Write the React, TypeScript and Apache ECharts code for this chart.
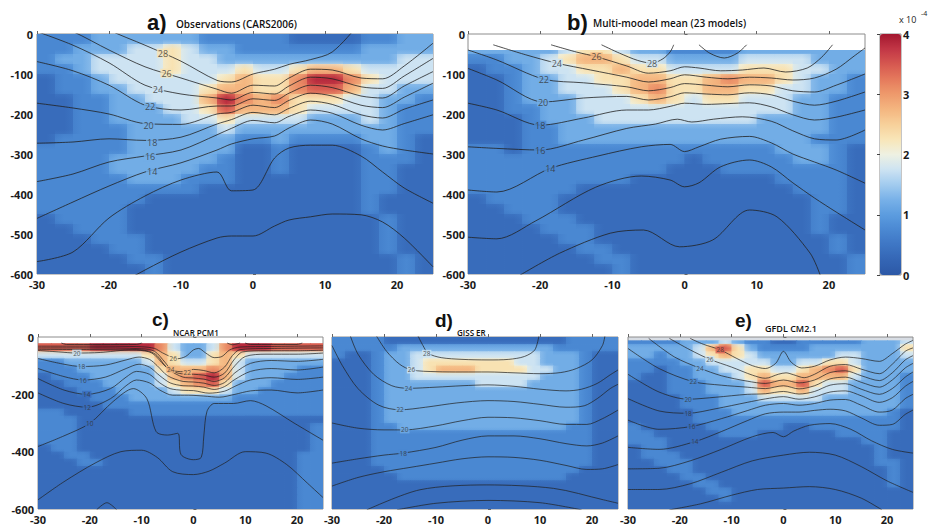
import { useEffect, useRef } from 'react';
import * as echarts from 'echarts';

// ---------- grid of the coloured field (cell centres) ----------
const colX = [-28.75, -26.25, -23.75, -21.25, -18.75, -16.25, -13.75, -11.25, -8.75, -6.25, -3.75, -1.25, 1.25, 3.75, 6.25, 8.75, 11.25, 13.75, 16.25, 18.75, 21.25, 23.75];
const rowD = [-12.5, -37.5, -62.5, -87.5, -112.5, -137.5, -162.5, -187.5, -212.5, -237.5, -262.5, -287.5, -312.5, -337.5, -362.5, -387.5, -412.5, -437.5, -462.5, -487.5, -512.5, -537.5, -562.5, -587.5];
// value (x 10^-4) read for each digit class
const levels = [0.1, 0.35, 0.75, 1.2, 1.75, 2.3, 2.75, 3.1, 3.45, 3.85];

const colorTicks = [0, 1, 2, 3, 4];

// ---------- fields (rows = depth, columns = latitude), digits index `levels` ----------
const fieldA = [
  '2223333332222211112233',
  '2233344543322222223333',
  '2334444544333333333344',
  '2234444544454456654444',
  '1223444444565579975444',
  '1223344445665578864433',
  '1122334446976755544332',
  '1122333445866654444322',
  '1122333344544443334322',
  '1122233333433333333322',
  '1222233333322322223321',
  '2222233333311211112321',
  '2222333333211211112221',
  '2222333332211211112211',
  '2222233322211111112211',
  '2222222221111111112211',
  '2222221111111111112111',
  '2222211111111111112111',
  '1222211111111111111211',
  '1122211111111111111211',
  '1112221111111111111211',
  '1111221111111111111211',
  '1111122111111111111121',
  '1111112111111111111121',
];
const fieldB = [
  '......................',
  '3333345543322223333333',
  '2233456654433334444333',
  '1223445565544445554433',
  '1123344556655676654332',
  '1123344456755665544332',
  '1123334445654554443322',
  '1122334444444444443322',
  '1112333444444444333322',
  '1112233333333333333322',
  '1112233333333333333222',
  '2212222222222222233321',
  '2222222222221222223321',
  '2222222222211122222221',
  '2222222221111111122221',
  '2222221111111111112221',
  '1222211111111111111221',
  '1122211111111111111221',
  '1112221111111111111211',
  '1111222111111111111211',
  '1111122111111111111121',
  '1111112211111111111121',
  '1111111221111111111112',
  '1111111121111111111112',
];
const fieldC = [
  '8888999997433479998888',
  '8888999997433479998888',
  '4444444456533565444444',
  '2233333346544564333333',
  '2223333335666764333322',
  '1222333334678964333222',
  '1122233334567853332222',
  '1112223333455543322222',
  '1111222333333332222222',
  '1111122222222222222222',
  '2211111222222222222222',
  '2221111111111111111111',
  '2221111111111111111112',
  '2221111111111111111112',
  '2221111111111111111112',
  '1221111111111111111112',
  '1122111111111111111122',
  '1112211111111111111122',
  '1111111111111111111122',
  '1111111111111111111122',
  '1111111111111111111122',
  '1111111111111111111122',
  '1111111111111111111122',
  '1111111111111111111122',
];
const fieldD = [
  '2222111111111111112222',
  '2222233333333333322222',
  '2112334444444444333211',
  '1112334555555544333211',
  '1112334566655554433211',
  '1112334444444444333211',
  '1112333333344443333211',
  '1112333333333333333211',
  '1112333333333333333211',
  '1112333333333333333211',
  '1112333333333333333211',
  '1112333333333333333211',
  '1112233333333333332211',
  '1112222222222222222211',
  '1112222222222222222211',
  '1112222222222222222211',
  '1112222222222222222211',
  '1112222222222222222211',
  '1111222222222222222111',
  '1111122222222222221111',
  '1111111111111111111111',
  '1111111111111111111111',
  '1111111111111111111111',
  '1111111111111111111111',
];
const fieldE = [
  '2222333432211222223334',
  '3333346853222233333335',
  '3323345654333333443334',
  '2222334444433445543333',
  '2212233445544567853333',
  '2112233345655666643332',
  '1112223334866854433332',
  '1112223334655644433332',
  '1111222333444443333332',
  '1111222333333333333332',
  '1111122233333333333321',
  '1111122222222222222221',
  '2111112222221122222221',
  '2211111222111111222211',
  '2221111111111111112211',
  '1221111111111111111211',
  '1222111111111111111211',
  '1122211111111111111221',
  '1112211111111111111121',
  '1111221111111111111121',
  '1111122111111111111121',
  '1111112211111111111111',
  '1111111211111111111111',
  '1111111111111111111111',
];

// ---------- isotherms ----------
const xA = [-30, -25, -20, -15, -10, -5, -3, 0, 3, 5, 8, 11, 15, 18, 21, 25];
const depthsA = [
  [90, 60, 10, -28, -68, -116, -120, -100, -88, -76, -64, -45, 30, 90, 90, 90],
  [40, 6, -40, -82, -110, -138, -148, -128, -130, -110, -88, -90, -110, -112, -80, -23],
  [6, -28, -72, -128, -150, -160, -165, -146, -150, -130, -108, -112, -132, -136, -105, -61],
  [-69, -92, -128, -178, -190, -180, -180, -162, -166, -148, -128, -134, -155, -160, -130, -94],
  [-173, -185, -200, -224, -226, -200, -196, -178, -184, -166, -148, -155, -178, -184, -158, -123],
  [-273, -270, -262, -266, -258, -225, -214, -196, -202, -186, -168, -176, -202, -210, -188, -165],
  [-369, -350, -320, -305, -290, -252, -236, -216, -222, -206, -190, -198, -228, -240, -224, -202],
  [-461, -420, -380, -345, -322, -290, -275, -262, -255, -235, -215, -225, -262, -280, -290, -300],
  [-569, -545, -460, -405, -365, -345, -392, -390, -310, -285, -278, -278, -305, -345, -385, -423],
  [-720, -690, -640, -590, -545, -510, -505, -505, -480, -465, -457, -450, -452, -470, -510, -582],
];
const labelsA = [[-12.5, -48, '28'], [-12, -98, '26'], [-13.2, -138, '24'], [-14.3, -182, '22'], [-14.5, -228, '20'], [-14, -270, '18'], [-14.3, -307, '16'], [-14, -344, '14']];

const linesB = [
  [[-11.5, -27], [-9, -48], [-6.5, -66], [-4.5, -73], [-3, -62], [-2, -45], [-1.5, -27]],
  [[2, -27], [3.5, -48], [5.5, -60], [7.3, -48], [8.6, -27]],
  [[-18.5, -27], [-15, -45], [-12.2, -57], [-8, -80], [-5, -98], [-2, -92], [0, -82], [2, -85], [5, -92], [8, -90], [11, -85], [14, -95], [17, -85], [19, -58], [20.5, -27]],
  [[-26.5, -27], [-22, -52], [-17.7, -73], [-13, -90], [-8, -108], [-5, -120], [-2, -112], [0, -102], [3, -108], [6, -112], [9, -108], [12, -110], [15, -115], [18, -110], [21, -88], [23.5, -55], [25, -35]],
  [[-30, -40], [-26, -65], [-19.5, -113], [-14, -122], [-8, -132], [-5, -142], [-2, -134], [0, -124], [3, -128], [6, -132], [9, -127], [12, -130], [15, -142], [18, -145], [21, -128], [25, -100]],
  [[-30, -86], [-26, -115], [-19.6, -170], [-14, -160], [-8, -156], [-5, -165], [-2, -157], [0, -147], [3, -150], [6, -152], [9, -147], [12, -152], [15, -168], [18, -178], [21, -168], [25, -145]],
  [[-30, -173], [-26, -190], [-20, -228], [-14, -210], [-8, -190], [-5, -190], [-2, -181], [0, -173], [3, -176], [6, -174], [9, -172], [12, -182], [15, -202], [18, -215], [21, -208], [25, -190]],
  [[-30, -282], [-26, -286], [-20, -290], [-14, -265], [-8, -236], [-4, -225], [-1, -213], [1, -220], [4, -213], [8, -207], [12, -218], [15, -242], [18, -262], [21, -265], [25, -240]],
  [[-30, -390], [-26, -395], [-18.6, -336], [-12, -305], [-6, -282], [-2, -276], [0, -294], [2, -282], [5, -263], [9, -256], [12, -272], [15, -300], [18, -320], [21, -340], [25, -373]],
  [[-30, -508], [-26, -512], [-20.6, -467], [-12.3, -383], [-6, -355], [-2, -365], [0, -382], [2, -372], [5, -332], [9, -315], [12, -332], [15, -372], [18, -410], [21, -445], [25, -490]],
  [[-22.8, -603], [-17.3, -548], [-10.3, -498], [-5.7, -490], [-0.7, -532], [3.9, -515], [9, -440], [12.8, -457], [17.4, -548], [18.8, -603]],
];
const labelsB = [[-4.5, -73, '28'], [-12.2, -57, '26'], [-17.7, -73, '24'], [-19.5, -113, '22'], [-19.6, -170, '20'], [-20, -228, '18'], [-20, -290, '16'], [-18.6, -336, '14']];

const linesC = [
  [[-25.5, -21], [-24.5, -26], [-11, -26], [-10, -21]],
  [[6.5, -21], [7.5, -27], [9, -21]],
  [[10, -21], [11, -26], [20, -26], [21, -21]],
  [[-30, -32], [-20, -32], [-10, -34], [-7.5, -40], [-6, -55], [-4.5, -68], [-3.2, -76], [-1.5, -68], [0, -45], [1, -40], [2.3, -55], [4, -72], [5.5, -68], [7, -45], [9, -35], [15, -33], [25, -31]],
  [[-30, -38], [-20, -38], [-10, -41], [-7.5, -50], [-5.5, -88], [-4.2, -115], [-2, -121], [0, -113], [2, -117], [4, -125], [6, -105], [7.5, -65], [9, -44], [15, -40], [25, -38]],
  [[-30, -43], [-20, -44], [-11, -46], [-8, -56], [-5.5, -100], [-3, -126], [0, -130], [2, -133], [4, -140], [6, -126], [7.8, -80], [9.5, -52], [14, -48], [20, -48], [25, -46]],
  [[-30, -47], [-26, -52], [-22.5, -56], [-18, -54], [-14, -47], [-11, -44], [-8.5, -50], [-7, -65], [-5, -110], [-2, -140], [0, -143], [2, -147], [4, -155], [6, -142], [8, -100], [10, -68], [14, -60], [20, -60], [25, -56]],
  [[-30, -75], [-25, -95], [-21.6, -103], [-17, -98], [-13, -80], [-10.5, -70], [-8.5, -78], [-7, -100], [-5, -135], [-2, -155], [0, -157], [2, -161], [4, -169], [6, -159], [8, -125], [11, -92], [15, -82], [20, -85], [25, -78]],
  [[-30, -110], [-25, -138], [-21.3, -150], [-17, -140], [-13, -110], [-10.5, -95], [-8.5, -105], [-6.5, -135], [-4.5, -160], [-2, -170], [0, -171], [2, -175], [4, -183], [6, -173], [8, -148], [11, -120], [15, -110], [20, -115], [25, -105]],
  [[-30, -145], [-25, -185], [-20.6, -200], [-16, -180], [-13, -140], [-11, -120], [-8.5, -130], [-6.5, -160], [-4.5, -180], [-2, -186], [0, -187], [3, -196], [6, -189], [8, -172], [11, -150], [15, -142], [20, -148], [25, -140]],
  [[-30, -195], [-25, -232], [-20.5, -245], [-16, -215], [-13, -170], [-11, -150], [-8.5, -160], [-6.5, -185], [-4, -203], [-1, -203], [2, -206], [5, -210], [8, -200], [11, -188], [15, -185], [20, -195], [25, -185]],
  [[-30, -382], [-25, -345], [-20, -301], [-15.5, -225], [-11.6, -180], [-9, -215], [-7.2, -330], [-5, -342], [-3, -336], [-2.4, -410], [0, -428], [1.5, -420], [2, -345], [2.6, -260], [4, -232], [7.7, -232], [11, -222], [14, -240], [19.4, -300], [25, -360]],
  [[-30, -568], [-25, -505], [-19, -440], [-14, -400], [-10, -395], [-7, -420], [-4, -470], [0, -480], [3, -468], [6, -440], [10, -400], [14, -405], [18, -445], [22, -510], [25, -560]],
  [[-18.7, -603], [-16.7, -578], [-14.8, -603]],
];
const labelsC = [[-22.5, -56, '20'], [-21.6, -103, '18'], [-21.3, -150, '16'], [-20.6, -200, '14'], [-20.5, -245, '12'], [-20, -301, '10'], [-3.9, -74, '26'], [-4.4, -113, '24'], [-1.2, -123, '22']];

const linesD = [
  [[-13.5, 5], [-12.5, -30], [-11.5, -57], [-9, -72], [-5, -78], [0, -80], [4, -78], [7, -68], [9, -45], [9.8, 5]],
  [[-21.5, 5], [-19.5, -50], [-17, -95], [-14.7, -115], [-10, -121], [-5, -122], [0, -122], [5, -125], [10, -128], [14, -124], [17, -110], [20, -80], [22, -30], [22.5, 5]],
  [[-26.5, 5], [-25, -60], [-22, -130], [-18.5, -170], [-15.3, -179], [-10, -175], [-5, -170], [0, -167], [5, -172], [10, -182], [15, -188], [18, -182], [21, -162], [23.5, -132], [25, -115]],
  [[-30, -30], [-28, -100], [-25, -180], [-21, -238], [-16.9, -254], [-12, -245], [-6, -230], [0, -222], [5, -225], [10, -235], [15, -245], [18.5, -240], [21, -215], [23.5, -180], [25, -165]],
  [[-30, -300], [-25, -318], [-20, -324], [-16, -324], [-10, -310], [-5, -292], [0, -280], [5, -282], [10, -292], [15, -305], [19, -305], [22, -285], [25, -255]],
  [[-30, -440], [-25, -425], [-20, -412], [-16.3, -405], [-10, -385], [-5, -360], [0, -345], [5, -345], [10, -355], [15, -372], [19, -380], [22, -370], [25, -345]],
  [[-30, -520], [-25, -490], [-20, -470], [-15, -455], [-10, -440], [-5, -425], [0, -418], [5, -420], [10, -430], [15, -448], [19, -462], [22, -460], [25, -445]],
  [[-23.3, -603], [-13.1, -533], [-0.25, -516], [12.6, -528], [22.2, -568], [25, -580]],
  [[-17.5, -603], [-10, -580], [0, -570], [10, -578], [18, -603]],
];
const labelsD = [[-11.8, -57, '28'], [-14.7, -115, '26'], [-15.3, -179, '24'], [-16.9, -254, '22'], [-16, -324, '20'], [-16.3, -405, '18']];

const linesE = [
  [[-18, -5], [-15.5, -25], [-12.2, -45], [-9, -75], [-6, -100], [-3.5, -110], [-1.5, -92], [0, -50], [1.5, -88], [3.5, -108], [6, -102], [9, -80], [12, -70], [15, -75], [18.5, -85], [21, -58], [23.5, -25], [25, -12]],
  [[-22, -5], [-18, -45], [-14.2, -78], [-10, -105], [-6, -133], [-3.5, -144], [-1, -130], [0.5, -125], [2, -132], [4, -142], [6, -130], [9, -102], [12, -96], [15, -112], [18.5, -128], [21, -95], [23.5, -50], [25, -38]],
  [[-26, -5], [-21, -70], [-16.1, -109], [-12, -135], [-7, -154], [-3.5, -162], [0, -150], [3, -160], [6, -150], [9, -124], [12, -118], [15, -135], [18.5, -152], [21, -125], [23.5, -80], [25, -65]],
  [[-30, -40], [-24, -110], [-17.4, -156], [-12, -168], [-7, -175], [-3.5, -180], [0, -170], [3, -181], [6, -170], [9, -146], [12, -140], [15, -158], [18.5, -175], [21, -150], [23.5, -108], [25, -92]],
  [[-30, -130], [-24, -192], [-18.4, -217], [-13, -210], [-7, -200], [-3.5, -198], [0, -190], [3, -199], [6, -190], [9, -168], [12, -163], [15, -182], [18.5, -200], [21, -180], [23.5, -140], [25, -122]],
  [[-30, -215], [-24, -258], [-18.4, -266], [-13, -250], [-7, -228], [-3.5, -216], [0, -208], [3, -217], [6, -209], [9, -192], [12, -188], [15, -205], [18.5, -228], [21, -212], [23.5, -172], [25, -155]],
  [[-30, -290], [-24, -322], [-17.7, -312], [-12, -285], [-7, -257], [-3.5, -238], [0, -232], [3, -238], [6, -232], [9, -220], [12, -218], [15, -238], [18.5, -262], [21, -255], [23.5, -215], [25, -200]],
  [[-30, -385], [-24, -392], [-17.1, -365], [-12, -330], [-7, -292], [-3.5, -268], [0, -262], [3, -262], [6, -256], [9, -252], [12, -258], [15, -282], [18.5, -308], [21, -305], [23.5, -270], [25, -255]],
  [[-30, -460], [-24, -458], [-18, -432], [-12, -392], [-6, -348], [-2, -333], [0, -348], [2, -328], [5, -308], [9, -302], [13, -322], [17, -362], [21, -392], [25, -405]],
  [[-30, -532], [-24, -532], [-18, -512], [-12, -472], [-6, -432], [0, -412], [5, -402], [10, -412], [15, -452], [20, -502], [25, -542]],
  [[-22, -603], [-16, -582], [-10, -552], [-5, -532], [0, -527], [5, -522], [10, -532], [15, -562], [19, -603]],
];
const labelsE = [[-12.2, -45, '28'], [-14.2, -78, '26'], [-16.1, -109, '24'], [-17.4, -156, '22'], [-18.4, -217, '20'], [-18.4, -266, '18'], [-17.7, -312, '16'], [-17.1, -365, '14']];

const titles = [
  { tag: 'a)', name: 'Observations (CARS2006)' },
  { tag: 'b)', name: 'Multi-moodel mean (23 models)' },
  { tag: 'c)', name: 'NCAR PCM1' },
  { tag: 'd)', name: 'GISS ER' },
  { tag: 'e)', name: 'GFDL CM2.1' },
];

// ---------- layout / style ----------
const FONT = '"Open Sans", "Liberation Sans", sans-serif';
// colour ramp, stops every 0.25 from 0 to 4
const CMAP = ['#2c58a6', '#3466b5', '#3e76c4', '#4a88d2', '#5c9cdf', '#78b1e8', '#a2cbef', '#cde3f2', '#eef1e2', '#f8e6b8', '#f7d09a', '#f4b680', '#ee9a6c', '#e57a5c', '#d65850', '#c23646', '#a3172f'];
const layout = [
  { left: 37, top: 34, width: 396, height: 240, yInterval: 100, yLabels: true, topDepth: 0, bg: '#ffffff', labelSize: 9, tagX: 147, tagY: 11, tagSize: 22, nameX: 176, nameY: 19, nameSize: 10 },
  { left: 468, top: 34, width: 397, height: 240, yInterval: 100, yLabels: true, topDepth: -40, bg: '#ffffff', labelSize: 9, tagX: 567, tagY: 11, tagSize: 22, nameX: 593, nameY: 18, nameSize: 10 },
  { left: 38, top: 337, width: 285, height: 172, yInterval: 200, yLabels: true, topDepth: -22, bg: '#ffffff', labelSize: 6.5, tagX: 152, tagY: 310, tagSize: 19, nameX: 173, nameY: 328, nameSize: 8 },
  { left: 332, top: 337, width: 286, height: 172, yInterval: 200, yLabels: false, topDepth: 0, bg: '#ffffff', labelSize: 6.5, tagX: 435, tagY: 311, tagSize: 19, nameX: 457, nameY: 328, nameSize: 8 },
  { left: 628, top: 337, width: 285, height: 172, yInterval: 200, yLabels: false, topDepth: -12, bg: '#d8dde4', labelSize: 6.5, tagX: 735, tagY: 311, tagSize: 19, nameX: 765, nameY: 324, nameSize: 9 },
];
const colorbarBox = { left: 880, top: 34, width: 21, height: 241 };

const fields = [fieldA, fieldB, fieldC, fieldD, fieldE];
const linesA = depthsA.map((ds) => ds.map((d, i) => [xA[i], d]));
const allLines = [linesA, linesB, linesC, linesD, linesE];
const allLabels = [labelsA, labelsB, labelsC, labelsD, labelsE];

// colour of a value on the colour bar (same linear ramp the visualMap uses)
const CMAP_RGB = CMAP.map((h) => [parseInt(h.slice(1, 3), 16), parseInt(h.slice(3, 5), 16), parseInt(h.slice(5, 7), 16)]);
function rampColor(v: number) {
  const t = Math.max(0, Math.min(1, v / 4)) * (CMAP_RGB.length - 1);
  const i = Math.min(CMAP_RGB.length - 2, Math.floor(t));
  const f = t - i;
  const a = CMAP_RGB[i];
  const b = CMAP_RGB[i + 1];
  return `rgb(${Math.round(a[0] + (b[0] - a[0]) * f)},${Math.round(a[1] + (b[1] - a[1]) * f)},${Math.round(a[2] + (b[2] - a[2]) * f)})`;
}

function fieldValues(field: string[]) {
  return field.map((row) => colX.map((_, c) => {
    const ch = row.charAt(c) || '1';
    return ch === '.' ? null : levels[Number(ch)];
  }));
}

function buildHeat(vals: (number | null)[][], topDepth: number) {
  const out: number[][] = [];
  vals.forEach((row, r) => {
    row.forEach((v, c) => {
      if (v === null) return;
      if (rowD[r] - 12.5 >= topDepth) return;
      out.push([colX[c], rowD[r], v, r, c]);
    });
  });
  return out;
}

function makeOption() {
  const grids: any[] = layout.map((l) => ({
    left: l.left, top: l.top, width: l.width, height: l.height,
    show: true, borderColor: '#8c8c8c', borderWidth: 1, backgroundColor: l.bg,
  }));
  grids.push({ ...colorbarBox, show: true, borderColor: '#8c8c8c', borderWidth: 1 });

  const axisLabelStyle = { fontSize: 11, fontWeight: 'bold', color: '#1a1a1a', fontFamily: FONT };
  const xAxes: any[] = layout.map((l, i) => ({
    gridIndex: i, type: 'value', min: -30, max: 25, interval: 10,
    axisLine: { show: false }, splitLine: { show: false },
    axisTick: { show: true, inside: true, length: 3, lineStyle: { color: '#666' } },
    axisLabel: { ...axisLabelStyle, margin: 5, showMaxLabel: false, lineHeight: 11 },
  }));
  xAxes.push({ gridIndex: 5, type: 'value', min: 0, max: 1, show: false });

  const yAxes: any[] = layout.map((l, i) => ({
    gridIndex: i, type: 'value', min: -600, max: 0, interval: l.yInterval,
    axisLine: { show: false }, splitLine: { show: false },
    axisTick: { show: true, inside: true, length: 3, lineStyle: { color: '#666' } },
    axisLabel: { ...axisLabelStyle, show: l.yLabels, margin: i === 1 ? 3 : 4, lineHeight: 10 },
  }));
  yAxes.push({
    gridIndex: 5, type: 'value', min: colorTicks[0], max: colorTicks[colorTicks.length - 1], interval: 1, position: 'right', z: 10,
    axisLine: { show: false }, splitLine: { show: false },
    axisTick: { show: true, inside: true, length: 3, lineStyle: { color: '#444' } },
    axisLabel: { ...axisLabelStyle, margin: 2, lineHeight: 10 },
  });

  const series: any[] = [];
  const valsAll = fields.map(fieldValues);
  const getVal = (i: number, r: number, c: number, dflt: number) => {
    const row = valsAll[i][r];
    const v = row ? row[c] : null;
    return v === null || v === undefined ? dflt : v;
  };
  layout.forEach((l, i) => {
    const top = l.topDepth;
    series.push({
      type: 'custom', xAxisIndex: i, yAxisIndex: i, clip: true, z: 1, silent: true,
      data: buildHeat(valsAll[i], top),
      encode: { x: 0, y: 1 },
      renderItem: (params: any, api: any) => {
        const x = api.value(0);
        const y = api.value(1);
        const v = api.value(2);
        const r = api.value(3);
        const c = api.value(4);
        const up = getVal(i, r - 1, c, v);
        const dn = getVal(i, r + 1, c, v);
        const lf = getVal(i, r, c - 1, v);
        const rt = getVal(i, r, c + 1, v);
        const yTop = Math.min(y + 12.5, top);
        const p0 = api.coord([x - 1.25, yTop]);
        const p1 = api.coord([x + 1.25, y - 12.5]);
        const shape = { x: p0[0], y: p0[1], width: p1[0] - p0[0] + 0.8, height: p1[1] - p0[1] + 0.8 };
        const vg = new echarts.graphic.LinearGradient(0, 0, 0, 1, [
          { offset: 0, color: rampColor((v + up) / 2) },
          { offset: 0.5, color: rampColor(v) },
          { offset: 1, color: rampColor((v + dn) / 2) },
        ]);
        const hg = new echarts.graphic.LinearGradient(0, 0, 1, 0, [
          { offset: 0, color: rampColor((v + lf) / 2) },
          { offset: 0.5, color: rampColor(v) },
          { offset: 1, color: rampColor((v + rt) / 2) },
        ]);
        return {
          type: 'group',
          children: [
            { type: 'rect', shape, style: { fill: vg } },
            { type: 'rect', shape, style: { fill: hg, opacity: 0.5 } },
          ],
        };
      },
    });
  });
  layout.forEach((l, i) => {
    allLines[i].forEach((pts: any) => {
      series.push({
        type: 'line', xAxisIndex: i, yAxisIndex: i, data: pts, smooth: 0.3, symbol: 'none',
        silent: true, z: 3, clip: true,
        lineStyle: { color: '#222', width: i < 2 ? 1 : 0.9, opacity: 0.8 },
      });
    });
    series.push({
      type: 'scatter', xAxisIndex: i, yAxisIndex: i, symbolSize: 1, silent: true, z: 4,
      itemStyle: { color: 'rgba(0,0,0,0)' },
      label: { show: true, position: 'inside', fontSize: l.labelSize, color: '#333', fontFamily: FONT, padding: [0, 1] },
      data: allLabels[i].map((lb: any) => {
        const c = Math.max(0, Math.min(colX.length - 1, Math.floor((lb[0] + 30) / 2.5)));
        const r = Math.max(0, Math.min(rowD.length - 1, Math.floor(-lb[1] / 25)));
        const v = valsAll[i][r][c];
        return {
          value: [lb[0], lb[1]],
          label: { formatter: lb[2], backgroundColor: v === null ? '#ffffff' : rampColor(v) },
        };
      }),
    });
  });

  const graphics: any[] = [];
  layout.forEach((l, i) => {
    graphics.push({
      type: 'text', x: l.tagX, y: l.tagY, silent: true,
      style: { text: titles[i].tag, font: `bold ${l.tagSize}px "Liberation Sans", Arial, sans-serif`, fill: '#111', textVerticalAlign: 'top' },
    });
    graphics.push({
      type: 'text', x: l.nameX, y: l.nameY, silent: true,
      style: { text: titles[i].name, font: `600 ${l.nameSize}px ${FONT}`, fill: '#111', textVerticalAlign: 'top' },
    });
  });
  graphics.push({ type: 'text', x: 899, y: 15, silent: true, style: { text: 'x 10', font: `9px ${FONT}`, fill: '#222', textVerticalAlign: 'top' } });
  graphics.push({ type: 'text', x: 921, y: 10, silent: true, style: { text: '-4', font: `7px ${FONT}`, fill: '#222', textVerticalAlign: 'top' } });

  return {
    animation: false,
    backgroundColor: '#ffffff',
    grid: grids,
    xAxis: xAxes,
    yAxis: yAxes,
    visualMap: {
      type: 'continuous', min: 0, max: 4, dimension: 2, seriesIndex: [0, 1, 2, 3, 4],
      inRange: { color: CMAP }, calculable: false, hoverLink: false,
      left: colorbarBox.left, top: colorbarBox.top, itemWidth: colorbarBox.width, itemHeight: colorbarBox.height,
      padding: 0, orient: 'vertical',
    },
    series,
    graphic: graphics,
  };
}

export default function App() {
  const ref = useRef<HTMLDivElement>(null);
  useEffect(() => {
    if (!ref.current) return;
    const chart = echarts.init(ref.current, undefined, { renderer: 'svg' });
    chart.setOption(makeOption() as any);
    return () => chart.dispose();
  }, []);
  return <div ref={ref} style={{ position: 'fixed', left: 0, top: 0, width: 936, height: 526, background: '#fff' }} />;
}
